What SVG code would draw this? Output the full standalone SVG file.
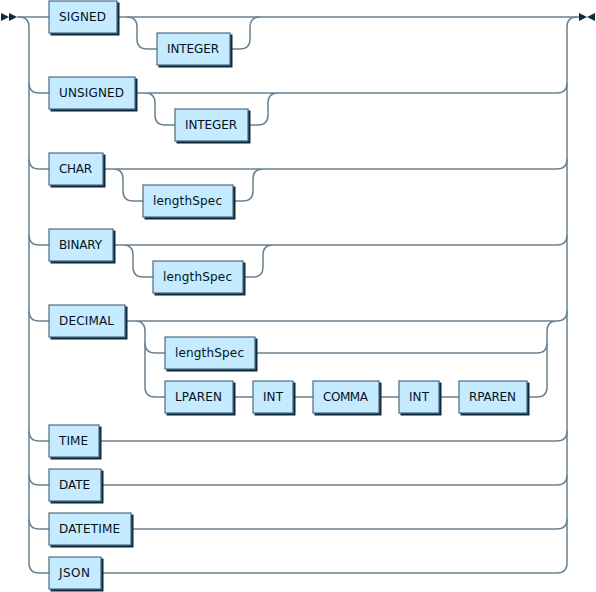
<svg xmlns="http://www.w3.org/2000/svg" width="596" height="592" viewBox="0 0 596 592">
<style>
.line{fill:none;stroke:#6A8191;stroke-width:1.5}
.arrow{fill:#0E2B3C;stroke:none}
rect.shadow{fill:#0E2B3C;stroke:#0E2B3C;stroke-width:1}
rect.box{fill:#C4EBFF;stroke:#4C6C80;stroke-width:1.2}
text{font-family:"DejaVu Sans",Verdana,sans-serif;font-size:12px;fill:#04121A}
</style>
<rect width="596" height="592" fill="#ffffff"/>
<g id="connectors">
<polygon class="arrow" points="9 17 1 13 1 21"/>
<polygon class="arrow" points="17 17 9 13 9 21"/>
<polygon class="arrow" points="587 17 595 13 595 21"/>
<polygon class="arrow" points="587 17 579 13 579 21"/>
<path class="line" d="M17 17 H49 M117 17 H579"/>
<path class="line" d="M127 17 q10 0 10 10 v12 q0 10 10 10 h10 M230 49 h10 q10 0 10 -10 v-12 q0 -10 10 -10"/>
<path class="line" d="M19 17 q10 0 10 10 V563 q0 10 10 10 h10"/>
<path class="line" d="M29 83 q0 10 10 10 h10 M29 159 q0 10 10 10 h10 M29 235 q0 10 10 10 h10 M29 311 q0 10 10 10 h10 M29 431 q0 10 10 10 h10 M29 475 q0 10 10 10 h10 M29 519 q0 10 10 10 h10"/>
<path class="line" d="M135 93 H557 q10 0 10 -10 M145 93 q10 0 10 10 v12 q0 10 10 10 h10 M248 125 h10 q10 0 10 -10 v-12 q0 -10 10 -10"/>
<path class="line" d="M103 169 H557 q10 0 10 -10 M113 169 q10 0 10 10 v12 q0 10 10 10 h10 M233 201 h10 q10 0 10 -10 v-12 q0 -10 10 -10"/>
<path class="line" d="M113 245 H557 q10 0 10 -10 M123 245 q10 0 10 10 v12 q0 10 10 10 h10 M243 277 h10 q10 0 10 -10 v-12 q0 -10 10 -10"/>
<path class="line" d="M125 321 H557 q10 0 10 -10 M135 321 q10 0 10 10 v12 q0 10 10 10 h10 M255 353 H537 q10 0 10 -10 v-12 q0 -10 10 -10"/>
<path class="line" d="M145 343 V387 q0 10 10 10 h10 M233 397 h20 M293 397 h20 M379 397 h20 M439 397 h20 M527 397 h10 q10 0 10 -10 V343"/>
<path class="line" d="M99 441 H557 q10 0 10 -10 M101 485 H557 q10 0 10 -10 M131 529 H557 q10 0 10 -10"/>
<path class="line" d="M101 573 H557 q10 0 10 -10 V27 q0 -10 10 -10"/>
</g>
<g id="signed"><rect class="shadow" x="51" y="3" width="68" height="32"/><rect class="box" x="49" y="1" width="68" height="32"/><text x="59" y="21" textLength="47" lengthAdjust="spacing">SIGNED</text></g>
<g id="integer1"><rect class="shadow" x="159" y="35" width="73" height="32"/><rect class="box" x="157" y="33" width="73" height="32"/><text x="167" y="53" textLength="52" lengthAdjust="spacing">INTEGER</text></g>
<g id="unsigned"><rect class="shadow" x="51" y="79" width="86" height="32"/><rect class="box" x="49" y="77" width="86" height="32"/><text x="59" y="97" textLength="65" lengthAdjust="spacing">UNSIGNED</text></g>
<g id="integer2"><rect class="shadow" x="177" y="111" width="73" height="32"/><rect class="box" x="175" y="109" width="73" height="32"/><text x="185" y="129" textLength="52" lengthAdjust="spacing">INTEGER</text></g>
<g id="char"><rect class="shadow" x="51" y="155" width="54" height="32"/><rect class="box" x="49" y="153" width="54" height="32"/><text x="59" y="173" textLength="33" lengthAdjust="spacing">CHAR</text></g>
<g id="lengthSpec1"><rect class="shadow" x="145" y="187" width="90" height="32"/><rect class="box" x="143" y="185" width="90" height="32"/><text x="153" y="205" textLength="69" lengthAdjust="spacing">lengthSpec</text></g>
<g id="binary"><rect class="shadow" x="51" y="231" width="64" height="32"/><rect class="box" x="49" y="229" width="64" height="32"/><text x="59" y="249" textLength="43" lengthAdjust="spacing">BINARY</text></g>
<g id="lengthSpec2"><rect class="shadow" x="155" y="263" width="90" height="32"/><rect class="box" x="153" y="261" width="90" height="32"/><text x="163" y="281" textLength="69" lengthAdjust="spacing">lengthSpec</text></g>
<g id="decimal"><rect class="shadow" x="51" y="307" width="76" height="32"/><rect class="box" x="49" y="305" width="76" height="32"/><text x="59" y="325" textLength="55" lengthAdjust="spacing">DECIMAL</text></g>
<g id="lengthSpec3"><rect class="shadow" x="167" y="339" width="90" height="32"/><rect class="box" x="165" y="337" width="90" height="32"/><text x="175" y="357" textLength="69" lengthAdjust="spacing">lengthSpec</text></g>
<g id="lparen"><rect class="shadow" x="167" y="383" width="68" height="32"/><rect class="box" x="165" y="381" width="68" height="32"/><text x="175" y="401" textLength="47" lengthAdjust="spacing">LPAREN</text></g>
<g id="int1"><rect class="shadow" x="255" y="383" width="40" height="32"/><rect class="box" x="253" y="381" width="40" height="32"/><text x="263" y="401" textLength="20" lengthAdjust="spacing">INT</text></g>
<g id="comma"><rect class="shadow" x="315" y="383" width="66" height="32"/><rect class="box" x="313" y="381" width="66" height="32"/><text x="323" y="401" textLength="45" lengthAdjust="spacing">COMMA</text></g>
<g id="int2"><rect class="shadow" x="401" y="383" width="40" height="32"/><rect class="box" x="399" y="381" width="40" height="32"/><text x="409" y="401" textLength="20" lengthAdjust="spacing">INT</text></g>
<g id="rparen"><rect class="shadow" x="461" y="383" width="68" height="32"/><rect class="box" x="459" y="381" width="68" height="32"/><text x="469" y="401" textLength="47" lengthAdjust="spacing">RPAREN</text></g>
<g id="time"><rect class="shadow" x="51" y="427" width="50" height="32"/><rect class="box" x="49" y="425" width="50" height="32"/><text x="59" y="445" textLength="29" lengthAdjust="spacing">TIME</text></g>
<g id="date"><rect class="shadow" x="51" y="471" width="52" height="32"/><rect class="box" x="49" y="469" width="52" height="32"/><text x="59" y="489" textLength="31" lengthAdjust="spacing">DATE</text></g>
<g id="datetime"><rect class="shadow" x="51" y="515" width="82" height="32"/><rect class="box" x="49" y="513" width="82" height="32"/><text x="59" y="533" textLength="61" lengthAdjust="spacing">DATETIME</text></g>
<g id="json"><rect class="shadow" x="51" y="559" width="52" height="32"/><rect class="box" x="49" y="557" width="52" height="32"/><text x="59" y="577" textLength="31" lengthAdjust="spacing">JSON</text></g>
</svg>
